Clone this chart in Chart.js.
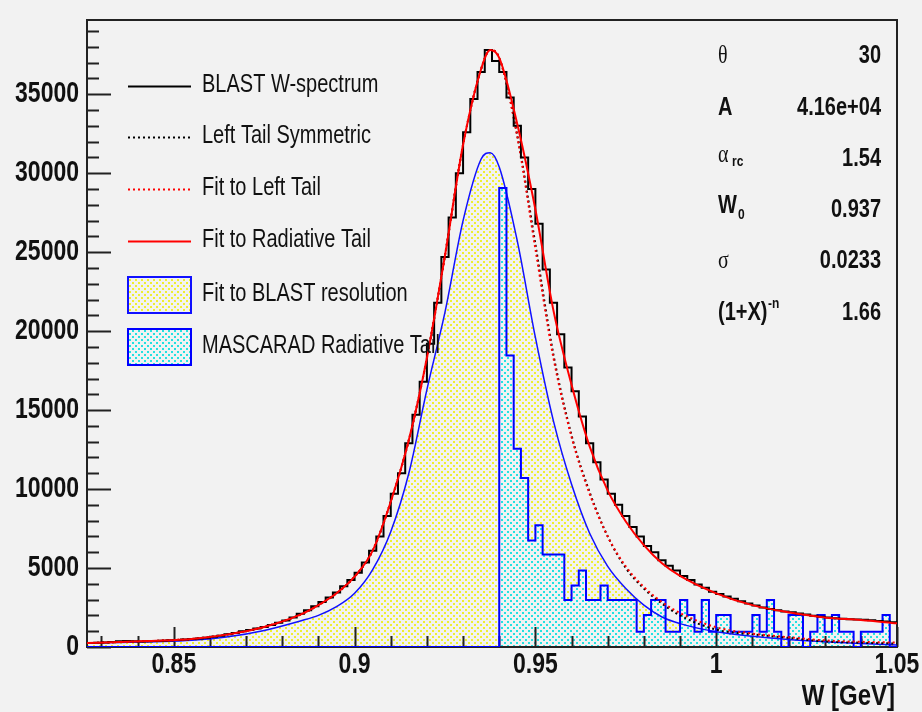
<!DOCTYPE html>
<html>
<head>
<meta charset="utf-8">
<title>BLAST W-spectrum</title>
<script src="https://cdn.jsdelivr.net/npm/chart.js@4.4.1/dist/chart.umd.min.js"></script>
<style>
  html, body { margin: 0; padding: 0; background: #f2f2f2; }
  #wrap { width: 922px; height: 712px; }
</style>
</head>
<body>
<div id="wrap"><canvas id="chart" width="922" height="712"></canvas></div>
<script>
/* ---- data ---- */

// histogram binning: 112 bins of 0.002 GeV from 0.826
const binLo = 0.826;
const binWidth = 0.002;

// BLAST W-spectrum (black histogram), one value per bin
const blastCounts = [
  255, 265, 280, 320, 370, 380, 370, 350, 360, 380,
  400, 420, 450, 470, 500, 540, 590, 650, 720, 800,
  890, 990, 1080, 1170, 1270, 1390, 1530, 1680, 1860, 2100,
  2330, 2580, 2850, 3130, 3450, 3850, 4250, 4700, 5350, 6100,
  7000, 8300, 9700, 11000, 12900, 14700, 16800, 19200, 21800, 24700,
  27200, 30000, 32600, 34700, 36400, 37800, 37100, 36400, 34800, 33000,
  31000, 29000, 26800, 23900, 21800, 19800, 17700, 16200, 14600, 12900,
  11700, 10600, 9700, 9000, 8300, 7600, 7000, 6400, 6000, 5500,
  5150, 4850, 4500, 4250, 3950, 3750, 3500, 3350, 3200, 3050,
  2900, 2750, 2620, 2500, 2400, 2320, 2250, 2200, 2120, 2050,
  1980, 1920, 1860, 1820, 1790, 1760, 1740, 1720, 1690, 1650,
  1610, 1560
];

// MASCARAD radiative tail (blue histogram), one value per bin
const mascaradCounts = [
  0, 0, 0, 0, 0, 0, 0, 0, 0, 0,
  0, 0, 0, 0, 0, 0, 0, 0, 0, 0,
  0, 0, 0, 0, 0, 0, 0, 0, 0, 0,
  0, 0, 0, 0, 0, 0, 0, 0, 0, 0,
  0, 0, 0, 0, 0, 0, 0, 0, 0, 0,
  0, 0, 0, 0, 0, 0, 0, 29070, 18450, 12560,
  10700, 6740, 7710, 5860, 5860, 5860, 2970, 3900, 4850, 2970,
  2970, 3900, 2970, 2970, 2970, 2970, 970, 2020, 2970, 2970,
  970, 970, 2970, 2020, 970, 2970, 970, 2020, 2020, 970,
  970, 970, 2020, 970, 2970, 970, 0, 2020, 2020, 0,
  970, 2020, 970, 2020, 970, 970, 0, 970, 970, 970,
  2020, 0
];

// smooth fit curves, sampled at these W values
const fitW = [
  0.826, 0.835, 0.845, 0.855, 0.865, 0.875, 0.885, 0.89, 0.895, 0.9,
  0.905, 0.91, 0.915, 0.92, 0.925, 0.93, 0.935, 0.9375, 0.94, 0.945,
  0.95, 0.955, 0.96, 0.965, 0.97, 0.975, 0.98, 0.985, 0.99, 1.0,
  1.01, 1.02, 1.03, 1.04, 1.05
];
const fitRadTail = [
  250, 320, 390, 510, 800, 1270, 2050, 2650, 3400, 4450,
  6100, 9200, 13100, 18300, 24800, 31800, 36600, 37800, 37300, 33100,
  27700, 21300, 16600, 12700, 9900, 7950, 6450, 5300, 4500, 3400,
  2650, 2200, 1870, 1710, 1500
];
const fitLeftTail = [
  250, 320, 390, 510, 800, 1270, 2050, 2650, 3400, 4450,
  6100, 9200, 13100, 18300, 24800, 31800, 36600, 37800, 37300, 32300,
  25200, 18300, 13300, 9700, 7000, 5100, 3800, 2850, 2150, 1250,
  850, 620, 420, 330, 280
];
const leftTailSym = [
  250, 320, 390, 510, 800, 1270, 2050, 2650, 3400, 4450,
  6100, 9200, 13100, 18300, 24800, 31800, 36600, 37800, 37300, 32400,
  25500, 18500, 13400, 9800, 7000, 5000, 3700, 2750, 2000, 1100,
  800, 580, 350, 270, 220
];
const fitResolution = [
  250, 290, 340, 430, 650, 1050, 1650, 2000, 2550, 3400,
  4900, 7300, 11000, 16300, 21200, 27000, 30900, 31300, 30400, 25700,
  19600, 14300, 10300, 7200, 5100, 3700, 2650, 1900, 1480, 960,
  680, 470, 330, 220, 130
];

// axis tick labels
const xTickValues = [0.85, 0.9, 0.95, 1.0, 1.05];
const xTickLabels = ['0.85', '0.9', '0.95', '1', '1.05'];
const yTickValues = [0, 5000, 10000, 15000, 20000, 25000, 30000, 35000];
const yTickLabels = ['0', '5000', '10000', '15000', '20000', '25000', '30000', '35000'];

// fit parameter box
const statValues = ['30', '4.16e+04', '1.54', '0.937', '0.0233', '1.66'];

/* ---- helpers ---- */

function curvePoints(xs, ys) {
    return xs.map((x, i) => ({ x: x, y: ys[i] }));
}

// step points: left edge of every bin, plus the right edge of the last one
function histPoints(counts) {
    const pts = counts.map((v, k) => ({ x: binLo + k * binWidth, y: v }));
    pts.push({ x: binLo + counts.length * binWidth, y: counts[counts.length - 1] });
    return pts;
}

function dotPattern(dotColor) {
    const c = document.createElement('canvas');
    c.width = 6; c.height = 6;
    const g = c.getContext('2d');
    g.fillStyle = '#f2f2f2';
    g.fillRect(0, 0, 6, 6);
    g.fillStyle = dotColor;
    g.fillRect(0, 0, 2, 2);
    g.fillRect(3, 3, 2, 2);
    return g.createPattern(c, 'repeat');
}

// the reference text is drawn a bit taller than normal
function tallText(ctx, str, x, y, font, align) {
    ctx.save();
    ctx.font = font;
    ctx.textAlign = align;
    ctx.textBaseline = 'middle';
    ctx.fillStyle = '#111';
    ctx.translate(x, y);
    ctx.scale(1, 1.25);
    ctx.fillText(str, 0, 0);
    ctx.restore();
}

const yellowDots = dotPattern('rgba(238,238,0,0.8)');
const cyanDots = dotPattern('rgba(0,222,222,0.85)');

const SANS = '"Liberation Sans", Arial, sans-serif';
const SERIF = '"Liberation Serif", "DejaVu Serif", serif';

/* ---- ROOT-like frame, ticks, labels, legend and stats ---- */
const rootStyle = {
    id: 'rootStyle',
    beforeDraw(chart) {
        const ctx = chart.ctx;
        ctx.save();
        ctx.fillStyle = '#f2f2f2';
        ctx.fillRect(0, 0, chart.width, chart.height);
        ctx.restore();
    },
    beforeDatasetsDraw(chart) {
        const ctx = chart.ctx;
        const a = chart.chartArea;
        const xs = chart.scales.x, ys = chart.scales.y;
        ctx.save();
        ctx.strokeStyle = '#222';
        ctx.lineWidth = 2;
        ctx.strokeRect(a.left, a.top, a.right - a.left, a.bottom - a.top);

        // y ticks every 1000, long every 5000
        for (let v = 0; v <= ys.max; v += 1000) {
            const py = Math.round(ys.getPixelForValue(v)) + 0.5;
            const len = (v % 5000 === 0) ? 24 : 12;
            ctx.beginPath();
            ctx.moveTo(a.left, py);
            ctx.lineTo(a.left + len, py);
            ctx.stroke();
        }
        // x ticks every 0.01, long every 0.05
        for (let i = 83; i <= 105; i++) {
            const px = Math.round(xs.getPixelForValue(i / 100)) + 0.5;
            const len = (i % 5 === 0) ? 20 : 11;
            ctx.beginPath();
            ctx.moveTo(px, a.bottom);
            ctx.lineTo(px, a.bottom - len);
            ctx.stroke();
        }
        ctx.restore();
    },
    afterDraw(chart) {
        const ctx = chart.ctx;
        const a = chart.chartArea;
        const xs = chart.scales.x, ys = chart.scales.y;
        const tickFont = 'bold 23px ' + SANS;

        yTickValues.forEach((v, i) => {
            tallText(ctx, yTickLabels[i], a.left - 8, ys.getPixelForValue(v), tickFont, 'right');
        });
        xTickValues.forEach((v, i) => {
            tallText(ctx, xTickLabels[i], xs.getPixelForValue(v), a.bottom + 18, tickFont, 'center');
        });
        tallText(ctx, 'W [GeV]', a.right - 2, 697, 'bold 24px ' + SANS, 'right');

        // legend
        const legendRows = [
            { label: 'BLAST W-spectrum', y: 86 },
            { label: 'Left Tail Symmetric', y: 137 },
            { label: 'Fit to Left Tail', y: 189 },
            { label: 'Fit to Radiative Tail', y: 241 },
            { label: 'Fit to BLAST resolution', y: 295 },
            { label: 'MASCARAD Radiative Tail', y: 347 }
        ];
        legendRows.forEach(row => {
            const ds = chart.data.datasets.find(d => d.label === row.label);
            ctx.save();
            if (ds.fill) {
                ctx.fillStyle = ds.backgroundColor;
                ctx.fillRect(128, row.y - 18, 63, 36);
                ctx.strokeStyle = ds.borderColor;
                ctx.lineWidth = 2;
                ctx.strokeRect(128, row.y - 18, 63, 36);
            } else {
                ctx.strokeStyle = ds.borderColor;
                ctx.lineWidth = 2;
                ctx.setLineDash(ds.borderDash || []);
                ctx.beginPath();
                ctx.moveTo(128, row.y + 0.5);
                ctx.lineTo(191, row.y + 0.5);
                ctx.stroke();
            }
            ctx.restore();
            tallText(ctx, row.label, 202, row.y - 1, '20px ' + SANS, 'left');
        });

        // fit parameters
        const bold = 'bold 20px ' + SANS;
        const small = 'bold 12px ' + SANS;
        const rowsY = [56, 108, 159, 210, 261, 313];
        tallText(ctx, '\u03b8', 718, rowsY[0], '20px ' + SERIF, 'left');
        tallText(ctx, 'A', 718, rowsY[1], bold, 'left');
        tallText(ctx, '\u03b1', 718, rowsY[2] - 4, '20px ' + SERIF, 'left');
        tallText(ctx, 'rc', 732, rowsY[2] + 3, small, 'left');
        tallText(ctx, 'W', 718, rowsY[3] - 4, bold, 'left');
        tallText(ctx, '0', 738, rowsY[3] + 5, small, 'left');
        tallText(ctx, '\u03c3', 718, rowsY[4], '20px ' + SERIF, 'left');
        tallText(ctx, '(1+X)', 718, rowsY[5], bold, 'left');
        tallText(ctx, '-n', 768, rowsY[5] - 9, small, 'left');
        statValues.forEach((s, i) => {
            tallText(ctx, s, 881, rowsY[i], bold, 'right');
        });
    }
};

/* ---- chart ---- */
const ctx = document.getElementById('chart').getContext('2d');
new Chart(ctx, {
    type: 'line',
    data: {
        datasets: [
            {
                label: 'Fit to Radiative Tail',
                data: curvePoints(fitW, fitRadTail),
                borderColor: '#ff0000',
                borderWidth: 2,
                cubicInterpolationMode: 'monotone',
                fill: false,
                order: 0
            },
            {
                label: 'BLAST W-spectrum',
                data: histPoints(blastCounts),
                borderColor: '#000000',
                borderWidth: 2,
                stepped: true,
                fill: false,
                order: 1
            },
            {
                label: 'Fit to Left Tail',
                data: curvePoints(fitW, fitLeftTail),
                borderColor: '#ff0000',
                borderWidth: 2,
                borderDash: [2, 3],
                cubicInterpolationMode: 'monotone',
                fill: false,
                order: 2
            },
            {
                label: 'Left Tail Symmetric',
                data: curvePoints(fitW, leftTailSym),
                borderColor: '#000000',
                borderWidth: 2,
                borderDash: [2, 3],
                cubicInterpolationMode: 'monotone',
                fill: false,
                order: 3
            },
            {
                label: 'MASCARAD Radiative Tail',
                data: histPoints(mascaradCounts),
                borderColor: '#0000ff',
                borderWidth: 2,
                stepped: true,
                fill: 'origin',
                backgroundColor: cyanDots,
                order: 4
            },
            {
                label: 'Fit to BLAST resolution',
                data: curvePoints(fitW, fitResolution),
                borderColor: '#1010ff',
                borderWidth: 1.5,
                cubicInterpolationMode: 'monotone',
                fill: 'origin',
                backgroundColor: yellowDots,
                order: 5
            }
        ]
    },
    options: {
        responsive: false,
        animation: false,
        events: [],
        layout: { padding: { left: 87, right: 25, top: 20, bottom: 65 } },
        elements: { point: { radius: 0 }, line: { tension: 0 } },
        scales: {
            x: { type: 'linear', min: 0.826, max: 1.05, display: false },
            y: { type: 'linear', min: 0, max: 39700, display: false }
        },
        plugins: {
            legend: { display: false },
            tooltip: { enabled: false },
            filler: { drawTime: 'beforeDatasetsDraw' }
        }
    },
    plugins: [rootStyle]
});
</script>
</body>
</html>
